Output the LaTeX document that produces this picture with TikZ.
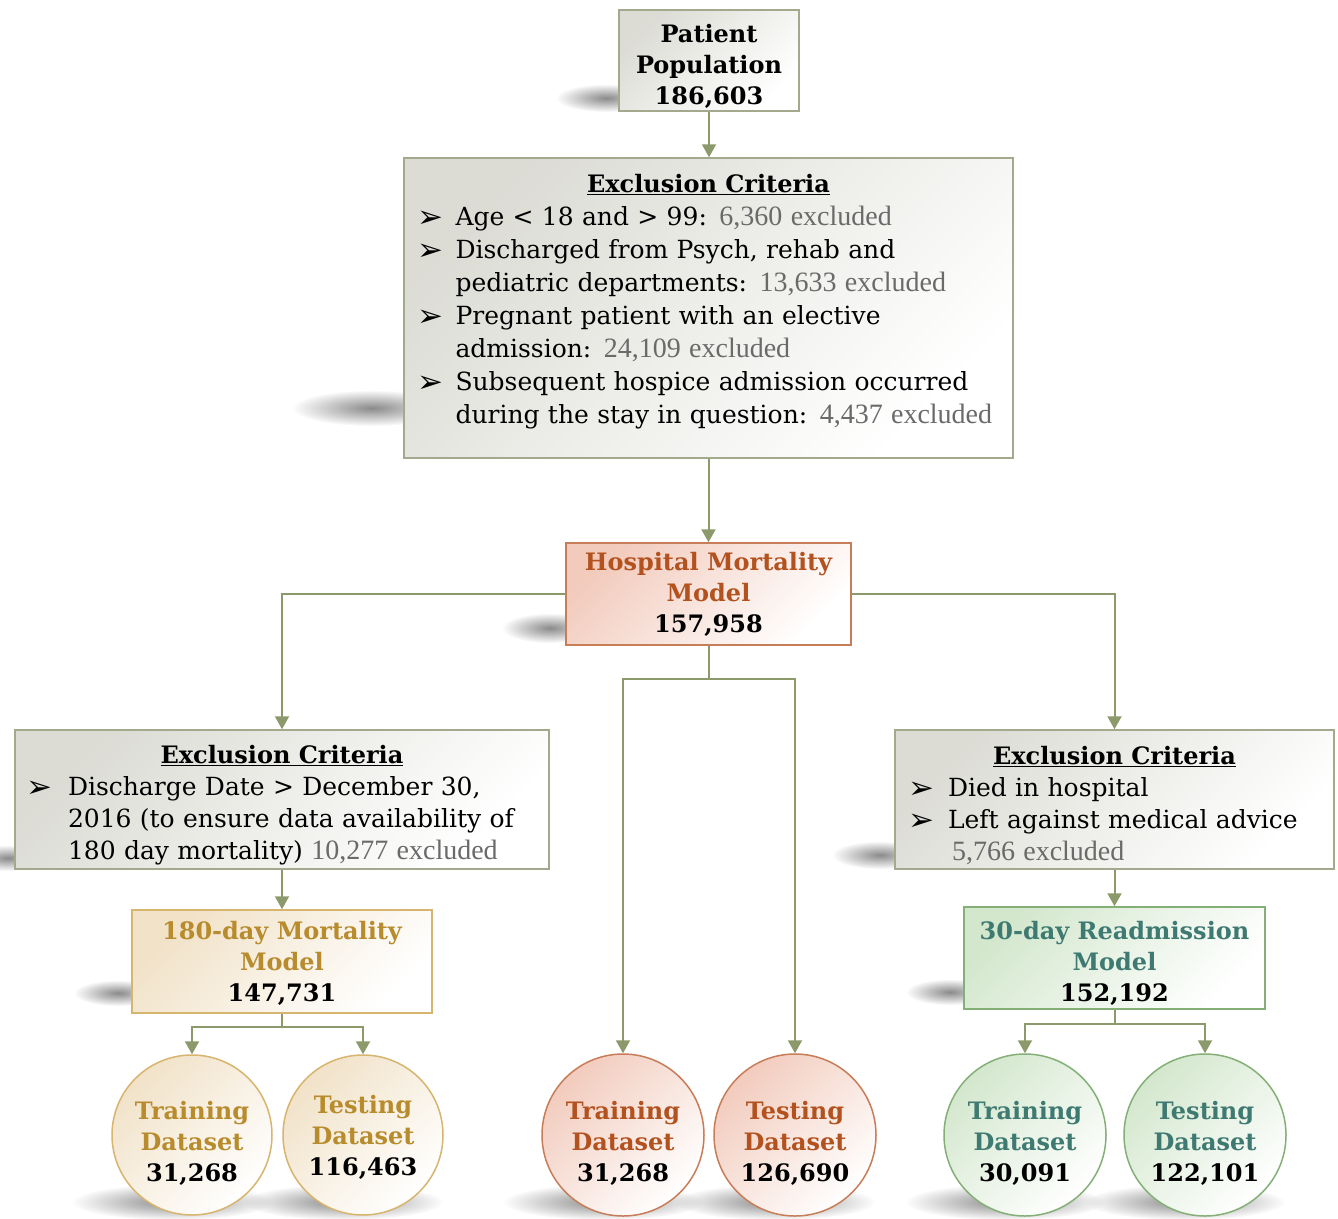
\documentclass[tikz,border=0pt]{standalone}
\usepackage{fontspec}
\setmainfont{DejaVu Serif}
\newfontfamily\exfont{Liberation Serif}
\newfontfamily\symfont{DejaVu Sans}
\usetikzlibrary{arrows.meta,fadings}
\definecolor{conncol}{HTML}{8C9A6B}
\definecolor{grayedge}{HTML}{A2A98C}
\definecolor{grayfill}{HTML}{DCDCD5}
\definecolor{hospedge}{HTML}{C77D58}
\definecolor{hospfill}{HTML}{F2CBBD}
\definecolor{hosptext}{HTML}{B3521E}
\definecolor{goldedge}{HTML}{D8B56E}
\definecolor{goldfill}{HTML}{F1E2C8}
\definecolor{goldtext}{HTML}{B88B2C}
\definecolor{greenedge}{HTML}{84B077}
\definecolor{greenfill}{HTML}{D3E7CD}
\definecolor{greentext}{HTML}{3E7A72}
\definecolor{exgray}{HTML}{6A6A6A}
\tikzfading[name=blobfade, inner color=transparent!30, outer color=transparent!100]
\newlength\bind
\newcommand\pinit[1]{\setlength\parindent{0pt}\setlength\bind{#1}}
\newcommand\bulsym{\raisebox{-2pt}{\symfont\bfseries\fontsize{31}{33}\selectfont ➢}}
\newcommand\bl[1]{\makebox[\bind][l]{\bulsym}\mbox{#1}}
\newcommand\cl[1]{\hspace*{\bind}\mbox{#1}}
\newcommand\exn[1]{{\exfont\color{exgray}\fontsize{28}{33}\selectfont #1}}
\newcommand\ttl[2][0pt]{\makebox[\hsize][c]{\rule{0pt}{#1}\bfseries\fontsize{24}{33}\selectfont\underline{#2}}}
\newcommand\up[1]{\rule{0pt}{#1}}
\newcommand\dn[1]{\rule[-#1]{0pt}{#1}}
\begin{document}
\begin{tikzpicture}[x=1pt,y=-1pt,
  conn/.style={draw=conncol, line width=2pt, line join=miter, -{Triangle[length=13pt,width=14pt]}},
  plain/.style={draw=conncol, line width=2pt},
  shad/.style={fill=black!65, path fading=blobfade},
  basebox/.style={rectangle, line width=1.5pt, inner sep=0pt},
  graybox/.style={basebox, draw=grayedge, top color=grayfill, bottom color=white, shading angle=45},
  hospbox/.style={basebox, draw=hospedge, top color=hospfill, bottom color=white, shading angle=45},
  goldbox/.style={basebox, draw=goldedge, top color=goldfill, bottom color=white, shading angle=45},
  greenbox/.style={basebox, draw=greenedge, top color=greenfill, bottom color=white, shading angle=45},
  titlefont/.style={font=\fontsize{24}{31}\selectfont\bfseries, align=center},
  bodyfont/.style={font=\fontsize{25}{33}\selectfont, align=left},
  bodyfontb/.style={font=\fontsize{25}{32}\selectfont, align=left},
  circ/.style={circle, titlefont},
]
\useasboundingbox[fill=white] (0,0) rectangle (1338,1218);

% shadows
\fill[shad] (606,98) ellipse [x radius=50, y radius=14];
\fill[shad] (372,408) ellipse [x radius=80, y radius=18];
\fill[shad] (550,628) ellipse [x radius=48, y radius=15];
\fill[shad] (8,858) ellipse [x radius=42, y radius=13];
\fill[shad] (118,993) ellipse [x radius=44, y radius=13];
\fill[shad] (880,855) ellipse [x radius=48, y radius=14];
\fill[shad] (950,992) ellipse [x radius=44, y radius=13];
\fill[shad] (172,1202) ellipse [x radius=100, y radius=18];
\fill[shad] (343,1202) ellipse [x radius=100, y radius=18];
\fill[shad] (603,1202) ellipse [x radius=100, y radius=18];
\fill[shad] (775,1202) ellipse [x radius=100, y radius=18];
\fill[shad] (1005,1202) ellipse [x radius=100, y radius=18];
\fill[shad] (1185,1202) ellipse [x radius=100, y radius=18];

% boxes
\node[graybox, titlefont, minimum width=180, minimum height=101] (pat) at (709,60.5)
  {\up{30pt}Patient\\Population\\186,603};
\node[graybox, bodyfont, minimum width=609, minimum height=300, text width=582] (ex1) at (708.5,308)
  {\pinit{38pt}\ttl{Exclusion Criteria}\\
   \bl{Age < 18 and > 99: \exn{6,360 excluded}}\\
   \bl{Discharged from Psych, rehab and}\\
   \cl{pediatric departments: \exn{13,633 excluded}}\\
   \bl{Pregnant patient with an elective}\\
   \cl{admission: \exn{24,109 excluded}}\\
   \bl{Subsequent hospice admission occurred}\\
   \cl{during the stay in question: \exn{4,437 excluded}\dn{19pt}}};
\node[hospbox, titlefont, minimum width=285, minimum height=102] (hosp) at (708.5,594)
  {\color{hosptext}Hospital Mortality\\\color{hosptext}Model\\157,958};
\node[graybox, bodyfontb, minimum width=534, minimum height=139, text width=510] (exL) at (282,799.5)
  {\pinit{41pt}\ttl[30pt]{Exclusion Criteria}\\
   \bl{Discharge Date > December 30,}\\
   \cl{2016 (to ensure data availability of}\\
   \cl{180 day mortality) \exn{10,277 excluded}}};
\node[graybox, bodyfontb, minimum width=439, minimum height=139, text width=413] (exR) at (1114.5,799.5)
  {\pinit{40pt}\ttl[30pt]{Exclusion Criteria}\\
   \bl{Died in hospital}\\
   \bl{Left against medical advice}\\
   \cl{\hspace{4pt}\exn{5,766 excluded}}};
\node[goldbox, titlefont, minimum width=300, minimum height=103] (m180) at (282,961.5)
  {\color{goldtext}\up{22pt}180-day Mortality\\\color{goldtext}Model\\147,731};
\node[greenbox, titlefont, minimum width=301, minimum height=102] (m30) at (1114.5,958)
  {\color{greentext}\up{28pt}30-day Readmission\\\color{greentext}Model\\152,192};

% circles
\node[goldbox, circ, minimum size=160] (trL) at (192,1135)
  {\color{goldtext}\up{35pt}Training\\\color{goldtext}Dataset\\31,268};
\node[goldbox, circ, minimum size=160] (teL) at (363,1135)
  {\color{goldtext}\up{22pt}Testing\\\color{goldtext}Dataset\\116,463};
\node[hospbox, circ, minimum size=162] (trM) at (623,1135)
  {\color{hosptext}\up{35pt}Training\\\color{hosptext}Dataset\\31,268};
\node[hospbox, circ, minimum size=162] (teM) at (795,1135)
  {\color{hosptext}\up{35pt}Testing\\\color{hosptext}Dataset\\126,690};
\node[greenbox, circ, minimum size=162] (trR) at (1025,1135)
  {\color{greentext}\up{35pt}Training\\\color{greentext}Dataset\\30,091};
\node[greenbox, circ, minimum size=162] (teR) at (1205,1135)
  {\color{greentext}\up{35pt}Testing\\\color{greentext}Dataset\\122,101};

% split points
\coordinate (hsplit) at (708.5,679);
\coordinate (lsplit) at (282,1027);
\coordinate (rsplit) at (1114.5,1024);

% connectors
\draw[conn] (pat.south) -- (pat.south |- ex1.north);
\draw[conn] (ex1.south) -- (hosp.north);
\draw[conn] (hosp.west) -| (exL.north);
\draw[conn] (hosp.east) -| (exR.north);
\draw[plain] (hosp.south) -- (hsplit);
\draw[conn] (hsplit) -| (trM.north);
\draw[conn] (hsplit) -| (teM.north);
\draw[conn] (exL.south) -- (m180.north);
\draw[plain] (m180.south) -- (lsplit);
\draw[conn] (lsplit) -| (trL.north);
\draw[conn] (lsplit) -| (teL.north);
\draw[conn] (exR.south) -- (m30.north);
\draw[plain] (m30.south) -- (rsplit);
\draw[conn] (rsplit) -| (trR.north);
\draw[conn] (rsplit) -| (teR.north);
\end{tikzpicture}
\end{document}
